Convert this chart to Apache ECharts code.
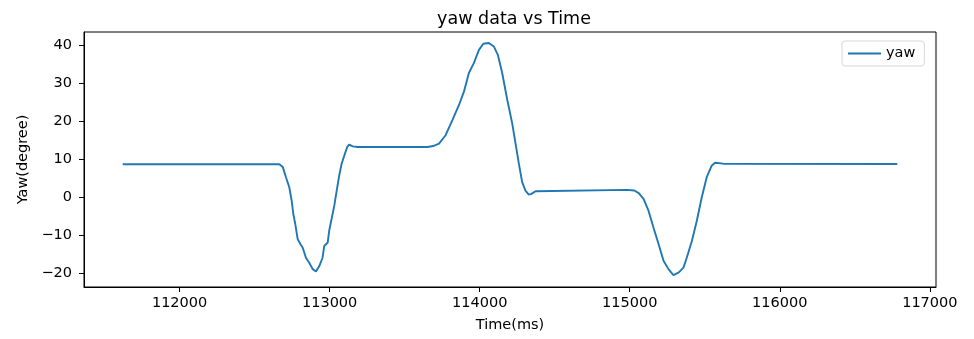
<!DOCTYPE html>
<html>
<head>
<meta charset="utf-8">
<script src="https://cdn.jsdelivr.net/npm/echarts@6/dist/echarts.min.js"></script>
<style>
  html, body { margin: 0; padding: 0; background: #fff; }
  #chart { width: 974px; height: 339px; }
</style>
</head>
<body>
<div id="chart"></div>
<script>
  // time stamps (ms)
  const timeMs = [
    111621, 112665, 112676, 112688, 112709, 112731, 112747, 112758, 112771, 112787, 112805,
    112820, 112842, 112864, 112887, 112909, 112931, 112953, 112964, 112987, 112997,
    113013, 113031, 113049, 113064, 113080, 113102, 113118, 113130, 113154, 113186, 113652, 113690, 113729,
    113773, 113818, 113862, 113895, 113928, 113961, 113995, 114024, 114061, 114094,
    114121, 114150, 114184, 114217, 114239, 114261, 114283, 114305, 114327, 114345, 114372,
    114981, 115030, 115060, 115092, 115125, 115158, 115192, 115225, 115258, 115291, 115325,
    115358, 115380, 115414, 115447, 115480, 115513, 115547, 115569, 115624, 116783
  ];
  // yaw (degree)
  const yawDeg = [
    8.8, 8.8, 8.55, 8.05, 5.4, 2.75, -0.77, -4.29, -6.93, -10.9, -12.2,
    -13.1, -15.8, -17.1, -18.8, -19.4, -18.0, -15.8, -12.7, -11.8, -8.7,
    -5.6, -2.1, 2.33, 5.85, 8.95, 11.6, 13.4, 13.98, 13.5, 13.34, 13.34, 13.6, 14.24,
    16.44, 20.4, 24.4, 27.9, 32.8, 35.4, 38.9, 40.5, 40.7, 39.8,
    37.6, 32.8, 25.7, 19.5, 14.24, 8.95, 4.08, 1.88, 0.82, 1.0, 1.69,
    2.06, 1.9, 1.2, -0.32, -3.41, -7.83, -12.2, -16.6, -18.8, -20.35, -19.7,
    -18.4, -15.8, -11.4, -6.06, 0.1, 5.4, 8.5, 9.2, 8.95, 8.85
  ];
  const xTicks = [112000, 113000, 114000, 115000, 116000, 117000];
  const yTicks = [-20, -10, 0, 10, 20, 30, 40];

  const font = 'DejaVu Sans';
  const lineData = timeMs.map((t, i) => [t, yawDeg[i]]);

  let eChart = echarts.init(document.getElementById('chart'));
  eChart.setOption({
    animation: false,
    title: {
      text: 'yaw data vs Time',
      left: 509,
      textAlign: 'center',
      top: 5,
      textStyle: { fontFamily: font, fontSize: 17.5, fontWeight: 'normal', color: '#000' }
    },
    legend: {
      data: ['yaw'],
      left: 842,
      top: 41,
      icon: 'rect',
      itemWidth: 33,
      itemHeight: 2,
      itemGap: 10,
      padding: [5, 9, 5, 6],
      borderColor: '#d6d6d6',
      borderWidth: 1,
      borderRadius: 3,
      backgroundColor: '#fff',
      textStyle: { fontFamily: font, fontSize: 14.5, color: '#000' }
    },
    grid: {
      left: 84,
      right: 38,
      top: 32,
      bottom: 52,
      show: true,
      borderColor: '#000',
      borderWidth: 1
    },
    xAxis: {
      type: 'value',
      min: 111363,
      max: 117041,
      name: 'Time(ms)',
      nameLocation: 'middle',
      nameGap: 31,
      nameTextStyle: { fontFamily: font, fontSize: 14.5, color: '#000' },
      axisLine: { show: true, onZero: false, lineStyle: { color: '#000', width: 1 } },
      axisTick: { show: true, length: 5, customValues: xTicks, lineStyle: { color: '#000' } },
      axisLabel: {
        customValues: xTicks, margin: 9, fontFamily: font, fontSize: 14.5, color: '#000',
        formatter: v => String(v)
      },
      splitLine: { show: false }
    },
    yAxis: {
      type: 'value',
      min: -23.5,
      max: 43.6,
      name: 'Yaw(degree)',
      nameLocation: 'middle',
      nameGap: 47,
      nameTextStyle: { fontFamily: font, fontSize: 14.5, color: '#000' },
      axisLine: { show: true, onZero: false, lineStyle: { color: '#000', width: 1 } },
      axisTick: { show: true, length: 5, customValues: yTicks, lineStyle: { color: '#000' } },
      axisLabel: {
        customValues: yTicks, margin: 12, fontFamily: font, fontSize: 14.5, color: '#000',
        formatter: v => (v < 0 ? '\u2212' + Math.abs(v) : String(v))
      },
      splitLine: { show: false }
    },
    series: [{
      name: 'yaw',
      type: 'line',
      data: lineData,
      showSymbol: false,
      color: '#1f77b4',
      lineStyle: { color: '#1f77b4', width: 1.9 }
    }]
  });
</script>
</body>
</html>
